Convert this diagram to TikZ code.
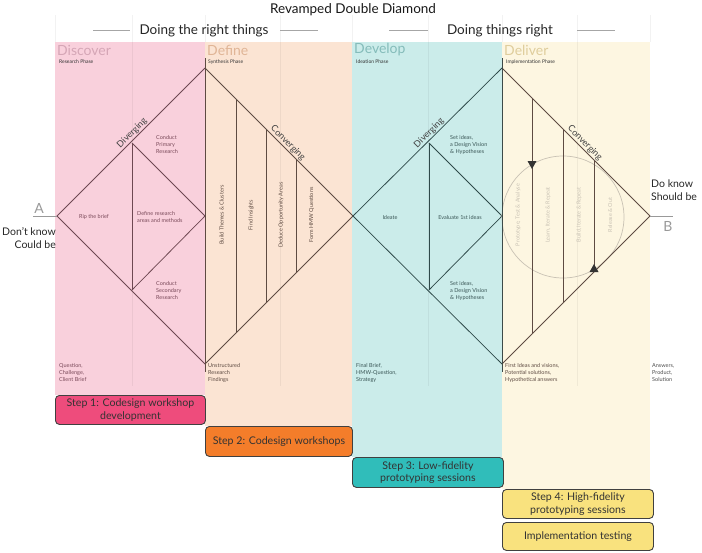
\documentclass[tikz,border=0pt]{standalone}
\usepackage{fontspec}
\setmainfont{Lato}
\usetikzlibrary{calc}
\definecolor{cpink}{HTML}{F9D0DC}
\definecolor{corange}{HTML}{FBE4D3}
\definecolor{cteal}{HTML}{CBECEA}
\definecolor{cyellow}{HTML}{FDF6E1}
\definecolor{bpink}{HTML}{EE4C7C}
\definecolor{borange}{HTML}{F47D2A}
\definecolor{bteal}{HTML}{30BDBA}
\definecolor{byellow}{HTML}{F9E27E}
\definecolor{tpink}{HTML}{D5A6B6}
\definecolor{torange}{HTML}{E0B596}
\definecolor{tteal}{HTML}{85BCBA}
\definecolor{tyellow}{HTML}{DFCD9C}
\definecolor{lpink}{HTML}{6E4852}
\definecolor{lteal}{HTML}{2F4A4A}
\definecolor{lbrown}{HTML}{5E4B42}
\definecolor{txpink}{HTML}{7A4A5A}
\definecolor{txteal}{HTML}{3A5656}
\definecolor{txbrown}{HTML}{5E4B42}
\definecolor{faint}{HTML}{C9C2B4}
\begin{document}
\begin{tikzpicture}[x=1pt,y=-1pt,
  hdr/.style={font=\fontsize{13.5}{15}\selectfont, text=black!85, inner sep=0},
  hline/.style={draw=black!35, line width=1pt},
  phase/.style={anchor=west, font=\fontsize{14}{14}\selectfont, inner sep=0},
  phsub/.style={anchor=west, font=\fontsize{5}{6}\selectfont, text=black!80, inner sep=0},
  tiny/.style={font=\fontsize{5.5}{7}\selectfont, inner sep=0, align=left},
  bot/.style={anchor=north west, font=\fontsize{5.5}{7}\selectfont, inner sep=0, align=left},
  rot/.style={rotate=90, font=\fontsize{5.5}{7}\selectfont, inner sep=0},
  edgelab/.style={font=\fontsize{9}{10}\selectfont, text=black!75, inner sep=1.2pt, anchor=south},
  dline/.style={line width=0.75pt},
  fline/.style={draw=black, draw opacity=0.05, line width=0.8pt},
  stepbox/.style={draw=black!75, line width=0.9pt, rounded corners=4pt, align=center,
    font=\fontsize{10.6}{12.5}\selectfont, text=black!80, inner sep=0, anchor=north west},
  side/.style={font=\fontsize{10.5}{13}\selectfont, text=black!85, inner sep=0}
]
\useasboundingbox (0,0) rectangle (702,552);

% columns
\fill[cpink] (55,42) rectangle (205,395);
\fill[corange] (205,42) rectangle (352,426);
\fill[cteal] (352,42) rectangle (502,457);
\fill[cyellow] (502,42) rectangle (650,489);

% faint grid
\foreach \x in {55,132,205,280,352,428,502,577,650} \draw[fline] (\x,15) -- (\x,42);
\foreach \x in {132,280,428,577} \draw[fline] (\x,42) -- (\x,386);

% title and headers
\node[font=\fontsize{13.5}{15}\selectfont, text=black!90, inner sep=0] (title) at (353,10) {Revamped Double Diamond};
\node[hdr] (h1) at (204,31) {Doing the right things};
\node[hdr] (h2) at (500,31) {Doing things right};
\coordinate (h1a) at (93,30); \coordinate (h1b) at (130,30);
\coordinate (h1c) at (280,30); \coordinate (h1d) at (318,30);
\coordinate (h2a) at (389,30); \coordinate (h2b) at (428,30);
\coordinate (h2c) at (577,30); \coordinate (h2d) at (615,30);
\draw[hline] (h1a) -- (h1b); \draw[hline] (h1c) -- (h1d);
\draw[hline] (h2a) -- (h2b); \draw[hline] (h2c) -- (h2d);

% phase titles
\node[phase, text=tpink] (discover) at (57,50) {Discover};
\node[phase, text=torange] (define) at (207,50) {Define};
\node[phase, text=tteal] (develop) at (354,50) {Develop};
\node[phase, text=tyellow] (deliver) at (504,50) {Deliver};
\node[phsub] (p1) at (59,62) {Research Phase};
\node[phsub] (p2) at (208,62) {Synthesis Phase};
\node[phsub] (p3) at (356,62) {Ideation Phase};
\node[phsub] (p4) at (506,62) {Implementation Phase};

% diamond coordinates
\coordinate (L1) at (57,216); \coordinate (T1) at (205,68);
\coordinate (R1) at (353,216); \coordinate (B1) at (205,364);
\coordinate (T2) at (502,68); \coordinate (R2) at (650,216); \coordinate (B2) at (502,364);

% diamond 1 (discover half)
\draw[dline, lpink] (B1) -- (L1) -- (T1);
\draw[dline, lpink] (132,143) -- (132,290);
\draw[dline, lpink] (132,143) -- (205,216) -- (132,290);
% define half
\draw[dline, lbrown] (T1) -- (R1) -- (B1);
\draw[dline, lbrown] (205,58) -- (205,372);
\foreach \x/\a/\b in {236/99/333, 266/129/303, 296/159/273} \draw[dline, lbrown] (\x,\a) -- (\x,\b);

% diamond 2 (develop half)
\draw[dline, lteal] (B2) -- (R1) -- (T2);
\draw[dline, lteal] (429,143) -- (429,290);
\draw[dline, lteal] (429,143) -- (502,216) -- (429,290);
% deliver half
\draw[faint, line width=0.7pt] (563,217) circle (61);
\draw[dline, lbrown] (T2) -- (R2) -- (B2);
\draw[dline, lteal!70!lbrown] (502,58) -- (502,372);
\foreach \x/\a/\b in {532/98/334, 563/129/303, 594/160/272} \draw[dline, lbrown] (\x,\a) -- (\x,\b);
\fill[black!80] (527.5,161) -- (536.5,161) -- (532,169) -- cycle;
\fill[black!80] (589.5,272) -- (598.5,272) -- (594,264) -- cycle;

% edge labels (sitting on the diamond edges)
\coordinate (e1) at (136,137); \coordinate (e2) at (284,147);
\coordinate (e3) at (433,137); \coordinate (e4) at (581,147);
\node[edgelab, rotate=45] (dv1) at (e1) {Diverging};
\node[edgelab, rotate=-45] (cv1) at (e2) {Converging};
\node[edgelab, rotate=45] (dv2) at (e3) {Diverging};
\node[edgelab, rotate=-45] (cv2) at (e4) {Converging};

% diamond 1 texts
\node[tiny, text=txpink] (rip) at (94,217) {Rip the brief};
\node[tiny, text=txpink, anchor=west] (defr) at (137,217) {Define research\\areas and methods};
\node[tiny, text=txpink, anchor=north west] (cpr) at (156,135) {Conduct\\Primary\\Research};
\node[tiny, text=txpink, anchor=north west] (csr) at (156,281) {Conduct\\Secondary\\Research};

% define rotated
\node[rot, text=txbrown] (bt) at (221.5,215) {Build Themes \& Clusters};
\node[rot, text=txbrown] (fi) at (251,215) {Find Insights};
\node[rot, text=txbrown] (dd) at (281,215) {Deduce Opportunity Areas};
\node[rot, text=txbrown] (hm) at (311.5,215) {Form HMW Questions};

% diamond 2 texts
\node[tiny, text=txteal] (ide) at (390,217) {Ideate};
\node[tiny, text=txteal] (ev) at (460,217) {Evaluate 1st ideas};
\node[tiny, text=txteal, anchor=north west] (si1) at (450,135) {Set ideas,\\a Design Vision\\\& Hypotheses};
\node[tiny, text=txteal, anchor=north west] (si2) at (450,281) {Set ideas,\\a Design Vision\\\& Hypotheses};

% deliver rotated
\node[rot, text=faint] (pt) at (518,215) {Prototype, Test \& Analyse};
\node[rot, text=faint] (li) at (548,215) {Learn, Iterate \& Repeat};
\node[rot, text=faint] (bi) at (579,215) {Build, Iterate \& Repeat};
\node[rot, text=faint] (ro) at (610,215) {Release \& Out};

% A and B
\coordinate (Aend) at (33,216); \coordinate (Bend) at (673,216);
\draw[black!40, line width=0.9pt] (Aend) -- (L1);
\draw[black!40, line width=0.9pt] (R2) -- (Bend);
\node[font=\fontsize{14}{14}\selectfont, text=black!40, inner sep=0] (A) at (39,208) {A};
\node[font=\fontsize{14}{14}\selectfont, text=black!40, inner sep=0] (B) at (668,226) {B};
\node[side, anchor=east, align=right] (dk) at (56,238.5) {Don't know\\Could be};
\node[side, anchor=west, align=left] (dok) at (651,190.5) {Do know\\Should be};

% bottom labels
\node[bot, text=txpink] (q) at (59,363) {Question,\\Challenge,\\Client Brief};
\node[bot, text=txbrown] (u) at (208,363) {Unstructured\\Research\\Findings};
\node[bot, text=txteal] (f) at (356,363) {Final Brief,\\HMW-Question,\\Strategy};
\node[bot, text=txbrown] (fi2) at (505,363) {First Ideas and visions,\\Potential solutions,\\Hypothetical answers};
\node[bot, text=black!70] (ans) at (652,363) {Answers,\\Product,\\Solution};

% steps
\node[stepbox, fill=bpink, minimum width=150, minimum height=29] (s1) at (55,395) {Step 1: Codesign workshop\\development};
\node[stepbox, fill=borange, minimum width=147, minimum height=30] (s2) at (205,426) {Step 2: Codesign workshops};
\node[stepbox, fill=bteal, minimum width=151, minimum height=30] (s3) at (352,457) {Step 3: Low-fidelity\\prototyping sessions};
\node[stepbox, fill=byellow, minimum width=151, minimum height=29] (s4) at (502,489) {Step 4: High-fidelity\\prototyping sessions};
\node[stepbox, fill=byellow, minimum width=151, minimum height=28] (s5) at (502,522) {Implementation testing};
\end{tikzpicture}
\end{document}
